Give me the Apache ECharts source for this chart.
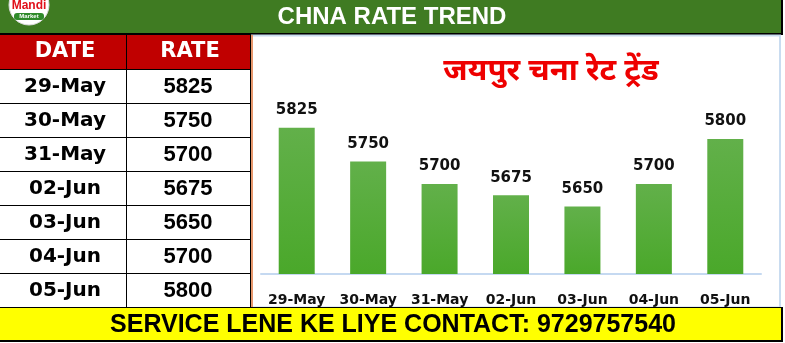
<!DOCTYPE html>
<html><head><meta charset="utf-8">
<script src="https://cdn.jsdelivr.net/npm/echarts@6/dist/echarts.min.js"></script>
<style>html,body{margin:0;padding:0;background:#fff}#c{width:785px;height:343px}</style>
</head><body><div id="c"></div>
<script>
var categories = ['29-May','30-May','31-May','02-Jun','03-Jun','04-Jun','05-Jun'];
var rates = [5825,5750,5700,5675,5650,5700,5800];
var headerTitle = 'CHNA RATE TREND';
var chartTitle = 'जयपुर चना रेट ट्रेंड';
var tableHeads = ['DATE','RATE'];
var footerText = 'SERVICE LENE KE LIYE CONTACT: 9729757540';

var chart = echarts.init(document.getElementById('c'), null, {renderer:'canvas'});
var g = [];
// header bar
g.push({type:'rect', shape:{x:0,y:0,width:783,height:35}, style:{fill:'#000'}, z:0});
g.push({type:'rect', shape:{x:0,y:0,width:781,height:33}, style:{fill:'#3f7b22'}, z:1});
g.push({type:'text', x:392, y:17, style:{text:headerTitle, fill:'#fff', font:'bold 24px "Liberation Sans"', align:'center', verticalAlign:'middle'}, z:2});
// logo
g.push({type:'circle', shape:{cx:29,cy:5,r:20}, style:{fill:'#fff', stroke:'#d9d9d9', lineWidth:1}, z:3});
g.push({type:'text', x:29, y:6, style:{text:'Mandi', fill:'#e0101a', font:'bold 12px "Liberation Sans"', align:'center', verticalAlign:'middle'}, z:4});
g.push({type:'rect', shape:{x:14,y:13,width:30,height:7,r:3}, style:{fill:'#2f8a2a'}, z:4});
g.push({type:'text', x:29, y:16.5, style:{text:'Market', fill:'#fff', font:'bold 6px "Liberation Sans"', align:'center', verticalAlign:'middle'}, z:5});
// chart panel border
g.push({type:'rect', shape:{x:252,y:35.5,width:528,height:272}, style:{fill:'none', stroke:'#c9dcf0', lineWidth:2}, z:0});
g.push({type:'line', shape:{x1:252,y1:35,x2:252,y2:307}, style:{stroke:'#f08040', lineWidth:1.5}, z:1});
// table
g.push({type:'rect', shape:{x:0,y:35,width:250,height:34}, style:{fill:'#c00000'}, z:1});
g.push({type:'text', x:65, y:52, style:{text:tableHeads[0], fill:'#fff', font:'bold 21px "DejaVu Sans"', align:'center', verticalAlign:'middle'}, z:2});
g.push({type:'text', x:190, y:52, style:{text:tableHeads[1], fill:'#fff', font:'bold 21px "DejaVu Sans"', align:'center', verticalAlign:'middle'}, z:2});
g.push({type:'line', shape:{x1:126.5,y1:35,x2:126.5,y2:307}, style:{stroke:'#000', lineWidth:1}, z:2});
g.push({type:'line', shape:{x1:250.5,y1:35,x2:250.5,y2:307}, style:{stroke:'#000', lineWidth:1}, z:2});
for (var i = 0; i < categories.length; i++) {
  var y0 = 69 + i*34;
  g.push({type:'line', shape:{x1:0,y1:y0+0.5,x2:250,y2:y0+0.5}, style:{stroke:'#000', lineWidth:1}, z:2});
  g.push({type:'text', x:65, y:y0+18, style:{text:categories[i], fill:'#000', font:'bold 20px "DejaVu Sans"', align:'center', verticalAlign:'middle'}, z:2});
  g.push({type:'text', x:188, y:y0+18, style:{text:String(rates[i]), fill:'#000', font:'bold 22px "Liberation Sans"', align:'center', verticalAlign:'middle'}, z:2});
}
// footer
g.push({type:'rect', shape:{x:0,y:307,width:783,height:35}, style:{fill:'#000'}, z:0});
g.push({type:'rect', shape:{x:0,y:308,width:781,height:32}, style:{fill:'#ffff00'}, z:1});
g.push({type:'text', x:393, y:325, style:{text:footerText, fill:'#000', font:'bold 25px "Liberation Sans"', align:'center', verticalAlign:'middle'}, z:2});

chart.setOption({
  animation:false,
  backgroundColor:'#fff',
  title:{text:chartTitle, left:546, top:54, textAlign:'center',
    textStyle:{color:'#ee0000', fontSize:31, fontWeight:'bold', fontFamily:'"Noto Sans Devanagari","Lohit Devanagari","Noto Sans",sans-serif'}},
  grid:{left:261, width:500, top:94, height:180},
  xAxis:{type:'category', data:categories,
    axisLine:{lineStyle:{color:'#c5d9f1', width:2}}, axisTick:{show:false},
    axisLabel:{interval:0, color:'#111', fontSize:14, fontWeight:'bold', fontFamily:'"DejaVu Sans"', margin:19}},
  yAxis:{type:'value', min:5500, max:5900, show:false, splitLine:{show:false}},
  series:[{type:'bar', data:rates, barWidth:36,
    itemStyle:{color:new echarts.graphic.LinearGradient(0,0,0,1,[{offset:0,color:'#62b04a'},{offset:1,color:'#4aa82a'}])},
    label:{show:true, position:'top', distance:10, color:'#111', fontSize:15, fontWeight:'bold', fontFamily:'"DejaVu Sans"'}}],
  graphic:g
});
</script></body></html>
